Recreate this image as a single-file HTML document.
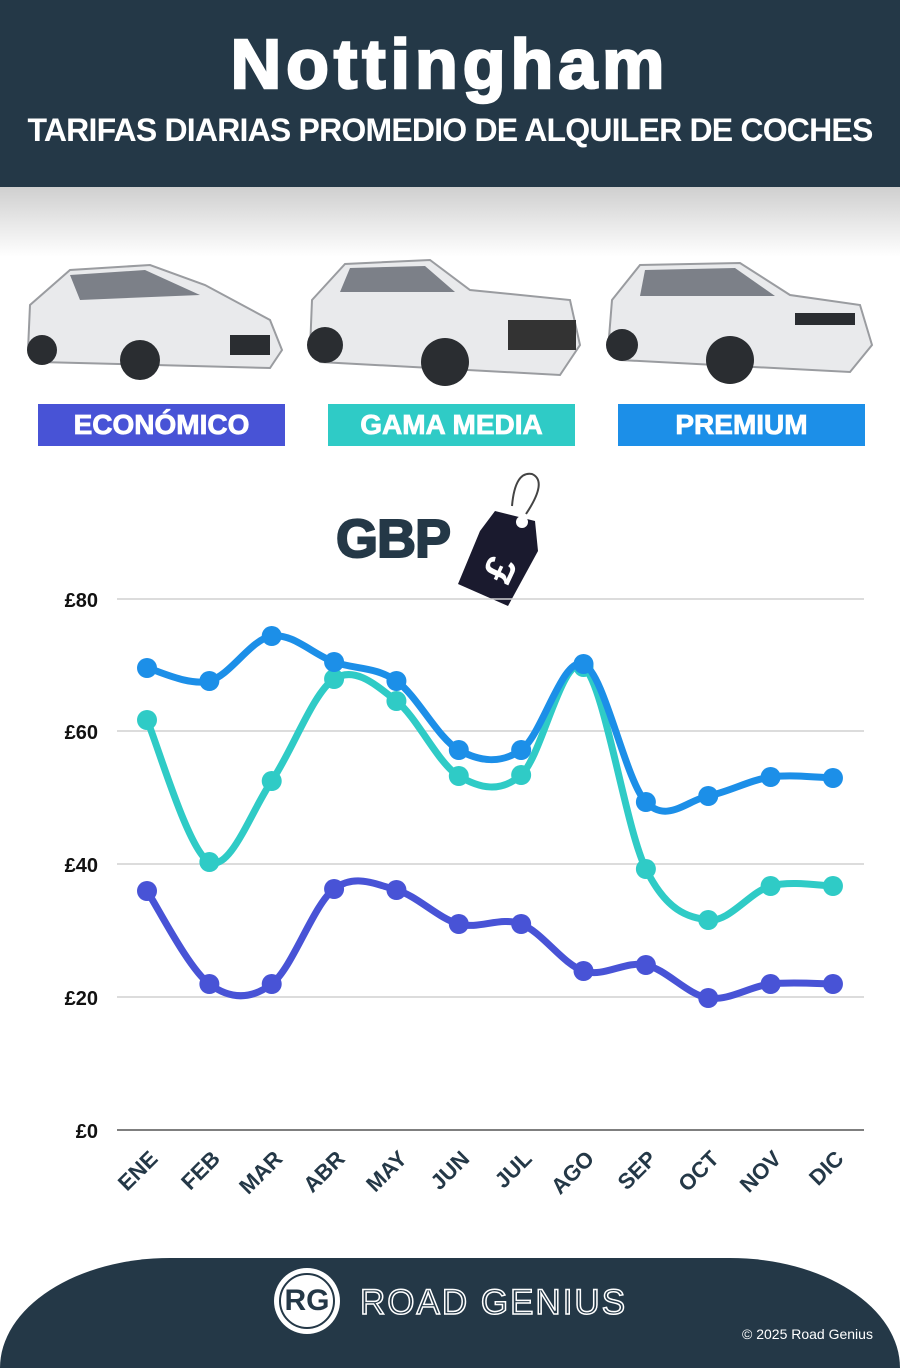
<!DOCTYPE html>
<html><head><meta charset="utf-8"><style>
body{margin:0;width:900px;height:1350px;position:relative;background:#fff;font-family:"Liberation Sans",sans-serif;overflow:hidden}
.hdr{position:absolute;left:0;top:0;width:900px;height:187px;background:#243847;color:#fff;text-align:center}
.t1{position:absolute;top:24px;width:100%;font-size:70px;font-weight:900;letter-spacing:5px;-webkit-text-stroke:2.5px #fff}
.t2{position:absolute;top:112px;width:100%;font-size:32px;font-weight:bold;letter-spacing:-0.8px}
.shade{position:absolute;top:187px;left:0;width:900px;height:70px;background:linear-gradient(#cfcfcf,#fff)}
.lab{position:absolute;top:404px;height:42px;line-height:42px;color:#fff;font-weight:bold;font-size:28px;text-align:center;-webkit-text-stroke:0.8px #fff}
.foot{position:absolute;left:0;top:1258px;width:900px;height:110px;background:#243847;border-radius:170px 170px 0 0/110px 110px 0 0}
</style></head><body>
<div class="hdr"><div class="t1">Nottingham</div><div class="t2">TARIFAS DIARIAS PROMEDIO DE ALQUILER DE COCHES</div></div>
<div class="shade"></div>
<svg width="900" height="400" style="position:absolute;left:0;top:0">
<g fill="#e9eaec" stroke="#9a9ca0" stroke-width="2">
<path d="M28 350 L30 305 L70 270 L150 265 L205 285 L270 320 L282 350 L270 368 L40 362Z"/>
<path d="M310 350 L312 300 L345 264 L430 260 L470 290 L570 300 L580 345 L560 375 L320 362Z"/>
<path d="M608 350 L612 300 L640 265 L740 263 L790 295 L860 305 L872 345 L850 372 L620 360Z"/>
</g>
<g fill="#2a2d31"><circle cx="140" cy="360" r="20"/><circle cx="42" cy="350" r="15"/><circle cx="445" cy="362" r="24"/><circle cx="325" cy="345" r="18"/><circle cx="730" cy="360" r="24"/><circle cx="622" cy="345" r="16"/>
<path d="M230 335 h40 v20 h-40z"/><path d="M508 320 h68 v30 h-68z" fill="#333"/><path d="M795 313 h60 v12 h-60z"/></g>
<g fill="#7c8088"><path d="M70 275 L145 270 L200 295 L80 300Z"/><path d="M350 268 L425 266 L455 292 L340 292Z"/><path d="M645 270 L735 268 L775 296 L640 296Z"/></g>
</svg>
<div class="lab" style="left:38px;width:247px;background:#4853d6">ECONÓMICO</div>
<div class="lab" style="left:328px;width:247px;background:#2fcbc6">GAMA MEDIA</div>
<div class="lab" style="left:618px;width:247px;background:#1c8fe8">PREMIUM</div>
<div style="position:absolute;left:336px;top:508px;font-size:54px;font-weight:900;color:#243847;letter-spacing:-1px;-webkit-text-stroke:2px #243847">GBP</div>
<svg width="120" height="150" style="position:absolute;left:450px;top:466px">
<path d="M62 40 Q65 5 82 8 Q98 15 76 48" fill="none" stroke="#444" stroke-width="2"/>
<path d="M45 45 L85 55 L88 85 L58 140 L8 118 L30 65Z" fill="#1a1a2e"/>
<circle cx="72" cy="56" r="6" fill="#fff"/>
<text x="0" y="0" fill="#fff" font-size="42" font-weight="bold" transform="translate(58 120) rotate(-65)" font-family="Liberation Sans">£</text>
</svg>
<svg id="ch" width="900" height="1250" style="position:absolute;left:0;top:0" font-family="Liberation Sans" font-weight="bold">
<g stroke="#d0d0d0" stroke-width="1.5"><line x1="117" x2="864" y1="599" y2="599"/><line x1="117" x2="864" y1="731" y2="731"/><line x1="117" x2="864" y1="864" y2="864"/><line x1="117" x2="864" y1="997" y2="997"/></g>
<line x1="117" x2="864" y1="1130" y2="1130" stroke="#555" stroke-width="1.5"/>
<g font-size="20" fill="#111" text-anchor="end"><text x="98" y="607">£80</text><text x="98" y="739">£60</text><text x="98" y="872">£40</text><text x="98" y="1005">£20</text><text x="98" y="1138">£0</text></g>
<g id="xl" font-size="22" fill="#243847" text-anchor="end"></g>
<g id="ser"></g>
</svg>
<div class="foot"></div>
<div style="position:absolute;left:274px;top:1268px;width:66px;height:66px;border-radius:50%;background:#fff;"></div>
<div style="position:absolute;left:279px;top:1273px;width:56px;height:56px;border-radius:50%;border:2px solid #243847;box-sizing:border-box;text-align:center;line-height:52px;font-size:30px;font-weight:bold;color:#243847">RG</div>
<div style="position:absolute;left:360px;top:1283px;font-size:35px;color:#243847;-webkit-text-stroke:1.5px #fff;letter-spacing:2px">ROAD GENIUS</div>
<div style="position:absolute;left:742px;top:1326px;font-size:14px;color:#fff">© 2025 Road Genius</div>
<script>
var X=[],m=["ENE","FEB","MAR","ABR","MAY","JUN","JUL","AGO","SEP","OCT","NOV","DIC"];
for(var i=0;i<12;i++)X.push(147+i*62.36);
var S=[["#1c8fe8",[668,681,636,662,681,750,750,664,802,796,777,778]],
["#2fcbc6",[720,862,781,679,701,776,775,667,869,920,886,886]],
["#4853d6",[891,984,984,889,890,924,924,971,965,998,984,984]]];
var ns="http://www.w3.org/2000/svg",g=document.getElementById("ser"),xl=document.getElementById("xl");
m.forEach(function(t,i){var e=document.createElementNS(ns,"text");e.setAttribute("transform","translate("+(X[i]+12)+",1160) rotate(-45)");e.textContent=t;xl.appendChild(e);});
[2,1,0].forEach(function(k){var c=S[k][0],Y=S[k][1],d="M"+X[0]+" "+Y[0];
for(var i=0;i<11;i++){var p0=i?i-1:i,p3=i+2<12?i+2:i+1;
d+=" C"+(X[i]+(X[i+1]-X[p0])/6)+" "+(Y[i]+(Y[i+1]-Y[p0])/6)+" "+(X[i+1]-(X[p3]-X[i])/6)+" "+(Y[i+1]-(Y[p3]-Y[i])/6)+" "+X[i+1]+" "+Y[i+1];}
var p=document.createElementNS(ns,"path");p.setAttribute("d",d);p.setAttribute("fill","none");p.setAttribute("stroke",c);p.setAttribute("stroke-width","7");p.setAttribute("stroke-linecap","round");g.appendChild(p);
Y.forEach(function(y,i){var q=document.createElementNS(ns,"circle");q.setAttribute("cx",X[i]);q.setAttribute("cy",y);q.setAttribute("r","10");q.setAttribute("fill",c);g.appendChild(q);});});
</script>
</body></html>
